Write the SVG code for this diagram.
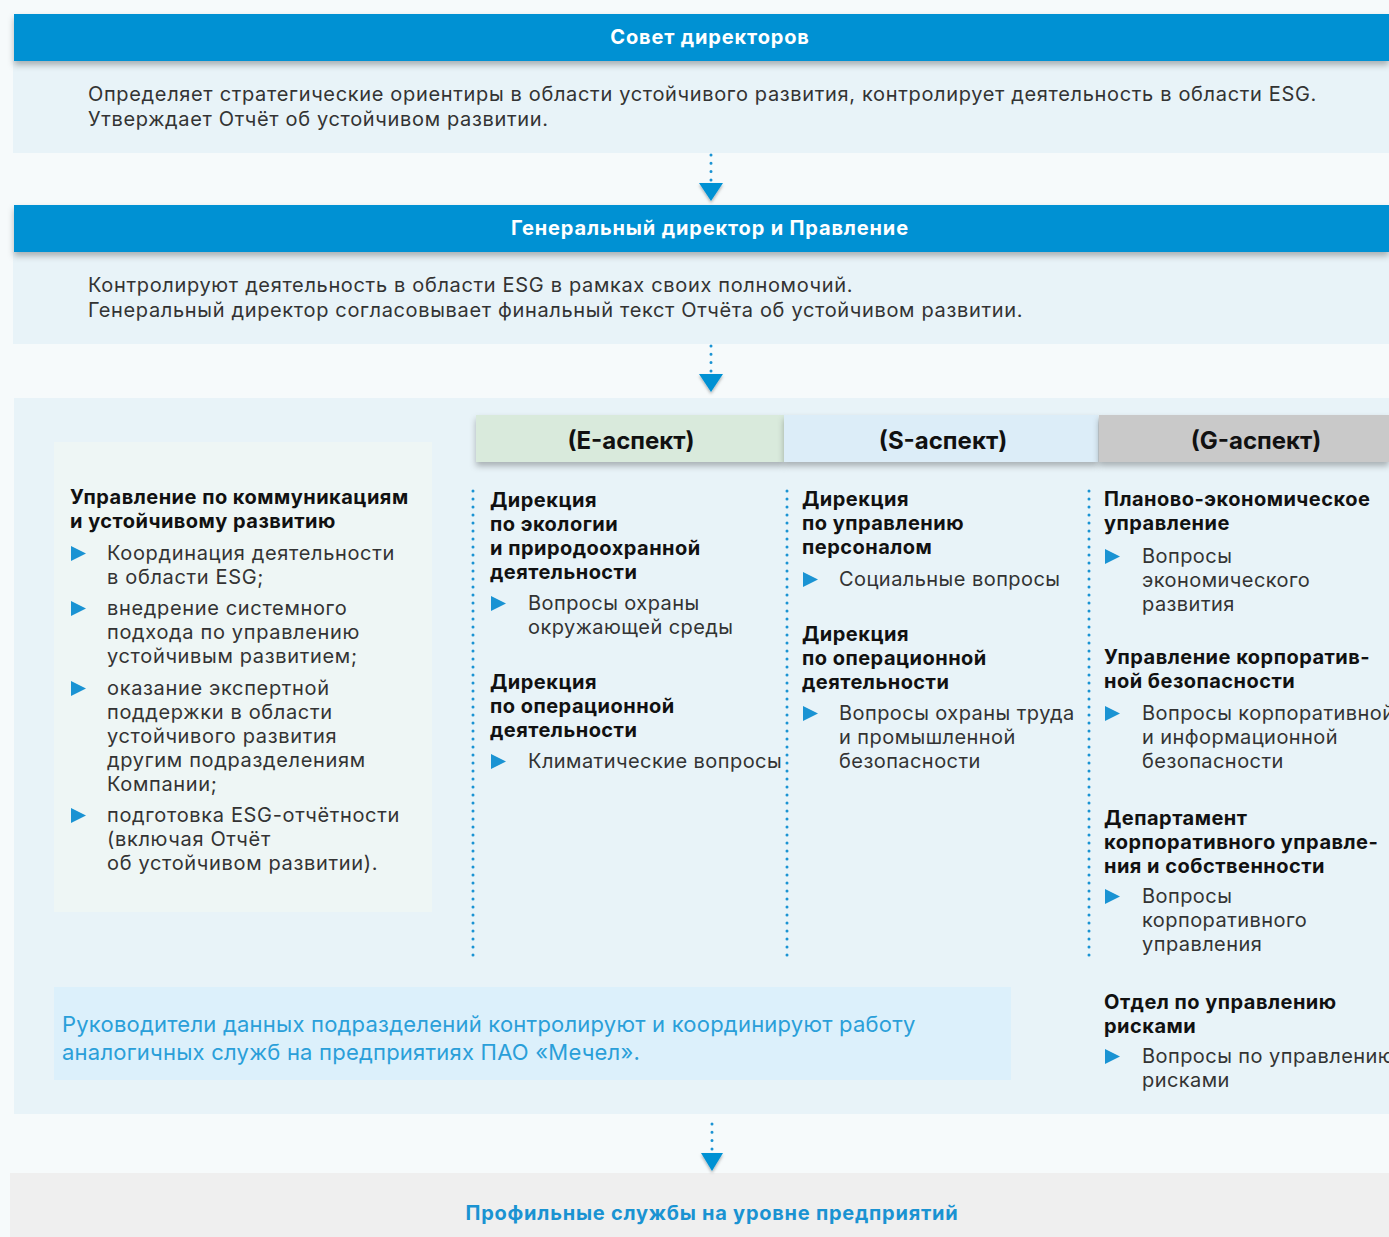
<svg xmlns="http://www.w3.org/2000/svg" width="1389" height="1237" viewBox="0 0 1389 1237">
<defs>
<filter id="sh" x="-5%" y="-30%" width="110%" height="180%">
<feDropShadow dx="0" dy="4" stdDeviation="3" flood-color="#000" flood-opacity="0.28"/>
</filter>
<filter id="tsh" x="-50%" y="-50%" width="200%" height="200%">
<feDropShadow dx="0" dy="2" stdDeviation="1.5" flood-color="#000" flood-opacity="0.3"/>
</filter>
<polygon id="bul" points="0,0 15,7.5 0,15" fill="#1a93d3"/>
</defs>
<style>
.hdr{font-family:Inter,"Noto Sans",sans-serif;font-weight:700;font-size:20px;letter-spacing:0.85px;fill:#fff}
.body{font-family:Inter,"Noto Sans",sans-serif;font-size:20px;letter-spacing:0.66px;fill:#333}
.tt{font-family:Inter,"Noto Sans",sans-serif;font-weight:700;font-size:20px;letter-spacing:0.48px;fill:#111}
.txt{font-family:Inter,"Noto Sans",sans-serif;font-size:20px;letter-spacing:0.66px;fill:#333}
.ctx{font-family:Inter,"Noto Sans",sans-serif;font-size:20px;letter-spacing:0.44px;fill:#333}
.col{font-family:Inter,"Noto Sans",sans-serif;font-weight:700;font-size:24px;fill:#111}
.note{font-family:Inter,"Noto Sans",sans-serif;font-size:22px;letter-spacing:0.22px;fill:#2a9fd9}
.bot{font-family:Inter,"Noto Sans",sans-serif;font-weight:700;font-size:20px;letter-spacing:0.75px;fill:#1a93d2}
.dots{stroke:#1a93d3;stroke-width:3;stroke-linecap:round;stroke-dasharray:0 8;fill:none}
.adots{stroke:#1a93d3;stroke-width:3;stroke-linecap:round;stroke-dasharray:0 8.3;fill:none}
</style>
<rect x="0" y="0" width="1389" height="1237" fill="#f6fafb"/>

<g id="board">
<rect x="13" y="61" width="1376" height="92" fill="#e8f3f8"/>
<rect x="14" y="14" width="1375" height="47" fill="#0091d3" filter="url(#sh)"/>
<text class="hdr" x="710" y="44" text-anchor="middle">Совет директоров</text>
<text class="body" x="88" y="101">Определяет стратегические ориентиры в области устойчивого развития, контролирует деятельность в области ESG.</text>
<text class="body" x="88" y="126">Утверждает Отчёт об устойчивом развитии.</text>
</g>

<g id="ceo">
<rect x="13" y="252" width="1376" height="92" fill="#e8f3f8"/>
<rect x="14" y="205" width="1375" height="47" fill="#0091d3" filter="url(#sh)"/>
<text class="hdr" x="710" y="235" text-anchor="middle">Генеральный директор и Правление</text>
<text class="body" x="88" y="292">Контролируют деятельность в области ESG в рамках своих полномочий.</text>
<text class="body" x="88" y="317">Генеральный директор согласовывает финальный текст Отчёта об устойчивом развитии.</text>
</g>

<g id="units">
<rect x="14" y="398" width="1375" height="716" fill="#e8f3f8"/>
</g>

<g id="comm">
<rect x="54" y="442" width="378" height="470" fill="#eef6f5"/>
<text class="tt" x="70" y="504">Управление по коммуникациям</text>
<text class="tt" x="70" y="528">и устойчивому развитию</text>
<use href="#bul" x="71" y="546"/>
<text class="txt" x="107" y="560">Координация деятельности</text>
<text class="txt" x="107" y="584">в области ESG;</text>
<use href="#bul" x="71" y="601"/>
<text class="txt" x="107" y="615">внедрение системного</text>
<text class="txt" x="107" y="639">подхода по управлению</text>
<text class="txt" x="107" y="663">устойчивым развитием;</text>
<use href="#bul" x="71" y="681"/>
<text class="txt" x="107" y="695">оказание экспертной</text>
<text class="txt" x="107" y="719">поддержки в области</text>
<text class="txt" x="107" y="743">устойчивого развития</text>
<text class="txt" x="107" y="767">другим подразделениям</text>
<text class="txt" x="107" y="791">Компании;</text>
<use href="#bul" x="71" y="808"/>
<text class="txt" x="107" y="822">подготовка ESG-отчётности</text>
<text class="txt" x="107" y="846">(включая Отчёт</text>
<text class="txt" x="107" y="870">об устойчивом развитии).</text>
</g>

<g id="e-aspect">
<rect x="476" y="415" width="308" height="47" fill="#d9eadc" filter="url(#sh)"/>
<text class="col" x="631" y="449" text-anchor="middle">(E-аспект)</text>
<text class="tt" x="490" y="507">Дирекция</text>
<text class="tt" x="490" y="531">по экологии</text>
<text class="tt" x="490" y="555">и природоохранной</text>
<text class="tt" x="490" y="579">деятельности</text>
<use href="#bul" x="491" y="596"/>
<text class="ctx" x="528" y="610">Вопросы охраны</text>
<text class="ctx" x="528" y="634">окружающей среды</text>
<text class="tt" x="490" y="689">Дирекция</text>
<text class="tt" x="490" y="713">по операционной</text>
<text class="tt" x="490" y="737">деятельности</text>
<use href="#bul" x="491" y="754"/>
<text class="ctx" x="528" y="768">Климатические вопросы</text>
</g>

<g id="s-aspect">
<rect x="784" y="415" width="314" height="47" fill="#dcedf8" filter="url(#sh)"/>
<text class="col" x="943" y="449" text-anchor="middle">(S-аспект)</text>
<text class="tt" x="802" y="506">Дирекция</text>
<text class="tt" x="802" y="530">по управлению</text>
<text class="tt" x="802" y="554">персоналом</text>
<use href="#bul" x="803" y="572"/>
<text class="ctx" x="839" y="586">Социальные вопросы</text>
<text class="tt" x="802" y="641">Дирекция</text>
<text class="tt" x="802" y="665">по операционной</text>
<text class="tt" x="802" y="689">деятельности</text>
<use href="#bul" x="803" y="706"/>
<text class="ctx" x="839" y="720">Вопросы охраны труда</text>
<text class="ctx" x="839" y="744">и промышленной</text>
<text class="ctx" x="839" y="768">безопасности</text>
</g>

<g id="g-aspect">
<rect x="1099" y="415" width="290" height="47" fill="#c9c9c9" filter="url(#sh)"/>
<text class="col" x="1256" y="449" text-anchor="middle">(G-аспект)</text>
<text class="tt" x="1104" y="506">Планово-экономическое</text>
<text class="tt" x="1104" y="530">управление</text>
<use href="#bul" x="1105" y="549"/>
<text class="ctx" x="1142" y="563">Вопросы</text>
<text class="ctx" x="1142" y="587">экономического</text>
<text class="ctx" x="1142" y="611">развития</text>
<text class="tt" x="1104" y="664">Управление корпоратив-</text>
<text class="tt" x="1104" y="688">ной безопасности</text>
<use href="#bul" x="1105" y="706"/>
<text class="ctx" x="1142" y="720">Вопросы корпоративной</text>
<text class="ctx" x="1142" y="744">и информационной</text>
<text class="ctx" x="1142" y="768">безопасности</text>
<text class="tt" x="1104" y="825">Департамент</text>
<text class="tt" x="1104" y="849">корпоративного управле-</text>
<text class="tt" x="1104" y="873">ния и собственности</text>
<use href="#bul" x="1105" y="889"/>
<text class="ctx" x="1142" y="903">Вопросы</text>
<text class="ctx" x="1142" y="927">корпоративного</text>
<text class="ctx" x="1142" y="951">управления</text>
<text class="tt" x="1104" y="1009">Отдел по управлению</text>
<text class="tt" x="1104" y="1033">рисками</text>
<use href="#bul" x="1105" y="1049"/>
<text class="ctx" x="1142" y="1063">Вопросы по управлению</text>
<text class="ctx" x="1142" y="1087">рисками</text>
</g>

<g id="note">
<rect x="54" y="987" width="957" height="93" fill="#dcf0fb"/>
<text class="note" x="62" y="1032">Руководители данных подразделений контролируют и координируют работу</text>
<text class="note" x="62" y="1060">аналогичных служб на предприятиях ПАО «Мечел».</text>
</g>

<g id="plants">
<rect x="10" y="1173" width="1379" height="64" fill="#efefef"/>
<text class="bot" x="712" y="1220" text-anchor="middle">Профильные службы на уровне предприятий</text>
</g>

<g id="connectors">
<line class="dots" x1="473" y1="491" x2="473" y2="956"/>
<line class="dots" x1="787" y1="491" x2="787" y2="956"/>
<line class="dots" x1="1089" y1="491" x2="1089" y2="956"/>
<line class="adots" x1="711" y1="155" x2="711" y2="181"/>
<polygon points="699,183 723,183 711,201" fill="#0091d3" filter="url(#tsh)"/>
<line class="adots" x1="711" y1="346" x2="711" y2="372"/>
<polygon points="699,374 723,374 711,392" fill="#0091d3" filter="url(#tsh)"/>
<line class="adots" x1="712" y1="1124" x2="712" y2="1150"/>
<polygon points="701,1153 723,1153 712,1171" fill="#0091d3" filter="url(#tsh)"/>
</g>
</svg>
